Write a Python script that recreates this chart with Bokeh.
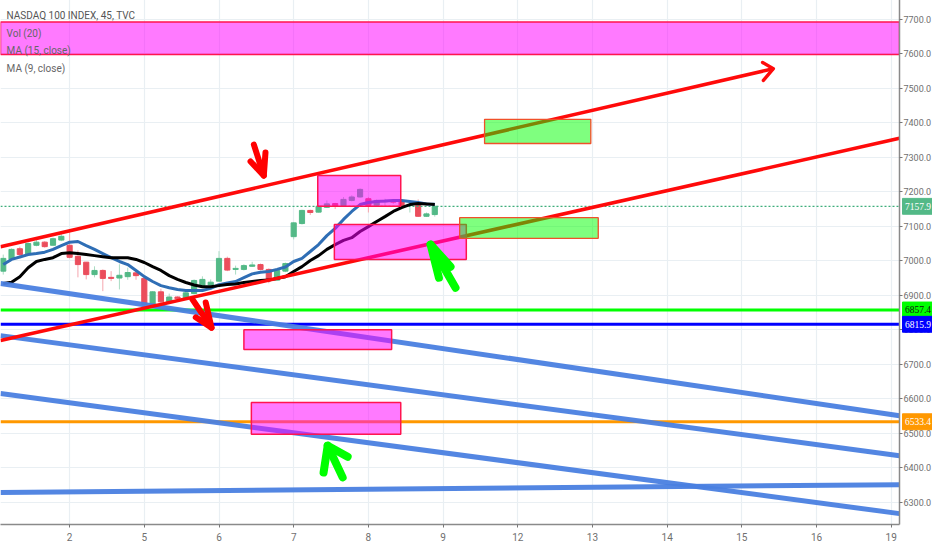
from bokeh.plotting import figure
from bokeh.layouts import row
from bokeh.models import FixedTicker, NumeralTickFormatter, Label, ColumnDataSource, Range1d
from bokeh.embed import file_html
from bokeh.resources import INLINE

# ---- data ----
tick_bars = [8, 17, 26, 35, 44, 53, 62, 71, 80, 89, 98, 107]
tick_labels = ["2", "5", "6", "7", "8", "9", "12", "13", "14", "15", "16", "19"]
price_ticks = [6300, 6400, 6500, 6600, 6700, 6800, 6900, 7000, 7100, 7200, 7300, 7400, 7500, 7600, 7700]

opens = [6970, 7004, 7035, 7018, 7045, 7054, 7045, 7060, 7045, 7013, 6996, 6960, 6972, 6952, 6950, 6954, 6965,
         6949, 6873, 6910, 6881, 6895, 6893, 6905, 6928, 6930, 6941, 7007, 6975, 6975, 6984, 6989, 6975, 6944,
         6970, 7070, 7108, 7146, 7141, 7155, 7166, 7160, 7175, 7185, 7180, 7161, 7171, 7173, 7173, 7160, 7160,
         7129, 7134]
closes = [7007, 7033, 7018, 7050, 7054, 7041, 7064, 7071, 7010, 6989, 6960, 6972, 6949, 6949, 6958, 6966, 6957,
          6873, 6910, 6881, 6895, 6890, 6907, 6943, 6946, 6938, 7007, 6973, 6978, 6986, 6988, 6975, 6944, 6972,
          6992, 7110, 7146, 7140, 7158, 7165, 7160, 7178, 7185, 7207, 7160, 7175, 7175, 7170, 7160, 7163, 7129,
          7136, 7157.9]
highs = [7018, 7036, 7041, 7053, 7062, 7057, 7067, 7078, 7088, 7030, 6996, 6984, 6975, 6970, 6990, 6980, 6975,
         6952, 6912, 6919, 6905, 6897, 6912, 6946, 6955, 6946, 7028, 7012, 6986, 6990, 6997, 6992, 6978, 6975,
         6995, 7112, 7148, 7148, 7160, 7175, 7168, 7185, 7190, 7210, 7185, 7178, 7180, 7175, 7176, 7168, 7178,
         7140, 7160]
lows = [6960, 7001, 7009, 7015, 7042, 7038, 7044, 7057, 7007, 6952, 6946, 6952, 6912, 6941, 6917, 6945, 6945,
        6870, 6870, 6878, 6878, 6885, 6890, 6902, 6925, 6925, 6941, 6970, 6960, 6972, 6982, 6972, 6935, 6942,
        6967, 7062, 7105, 7133, 7140, 7153, 7150, 7158, 7172, 7183, 7140, 7158, 7160, 7165, 7158, 7140, 7127,
        7127, 7128]
ma_blue = [6989, 7004, 7011, 7018, 7021, 7025, 7033, 7044, 7054, 7056, 7044, 7033, 7021, 7009, 6998, 6989, 6972,
           6954, 6940, 6928, 6922, 6917, 6914, 6914, 6914, 6920, 6931, 6936, 6940, 6951, 6962, 6967, 6969, 6975,
           6982, 6998, 7007, 7027, 7047, 7073, 7094, 7120, 7143, 7163, 7169, 7172, 7173, 7175, 7175, 7172, 7169,
           7165, 7164]
ma_black = [6934, 6938, 6954, 6980, 6998, 7004, 7009, 7021, 7023, 7021, 7018, 7015, 7012, 7009, 7009, 7009, 7004,
            6995, 6983, 6972, 6957, 6946, 6937, 6930, 6925, 6925, 6928, 6931, 6933, 6937, 6940, 6943, 6944, 6949,
            6954, 6969, 6983, 7001, 7015, 7033, 7047, 7059, 7067, 7085, 7099, 7114, 7128, 7143, 7154, 7163, 7166,
            7165, 7163]

# trend lines: bar and price at each end
red_x = [[-0.33, 92.8], [-0.33, 108]]
red_y = [[7041, 7557], [6769, 7355]]
blue_x = [[-0.33, 108], [-0.33, 108], [-0.33, 108], [-0.33, 108]]
blue_y = [[6934, 6551], [6783, 6435], [6615, 6267], [6328, 6351]]

# horizontal levels
level_prices = [6857.4, 6815.9, 6533.4]
level_colors = ["#00ff00", "#0000ff", "#ff9800"]
last_price = 7157.9

# price flags
flag_texts = ["7157.9", "6857.4", "6815.9", "6533.4"]
flag_prices = [7157.9, 6857.4, 6815.9, 6533.4]
flag_fill = ["#53b987", "#00ff00", "#0000ff", "#ff9800"]
flag_ink = ["#ffffff", "#111111", "#ffffff", "#ffffff"]

# magenta and green zones: left bar, right bar, top price, bottom price
pink_left = [-0.33, 37.9, 39.9, 29.0, 29.9]
pink_right = [108, 47.9, 55.8, 46.8, 47.9]
pink_top = [7692, 7247, 7105, 6800, 6589]
pink_bottom = [7598, 7158, 7004, 6743, 6497]
green_left = [58.0, 55.0]
green_right = [70.8, 71.7]
green_top = [7410, 7125]
green_bottom = [7340, 7065]

# hand-drawn arrows: wing, tip, wing + shaft
red_arrow_x = [[30.2, 31.4], [29.8, 31.4, 31.6], [22.8, 25.1], [23.2, 25.1, 24.4], [91.5, 92.8, 91.6]]
red_arrow_y = [[7337, 7247], [7288, 7247, 7314], [6888, 6806], [6836, 6806, 6879], [7575, 7557, 7523]]
green_arrow_x = [[51.5, 54.5], [52.5, 51.5, 53.9], [39.1, 40.9], [38.6, 39.1, 41.5]]
green_arrow_y = [[7047, 6922], [6951, 7047, 6983], [6464, 6372], [6386, 6464, 6432]]

# ---- figure ----
FONT = "Roboto"
y_range = Range1d(6235.5, 7757.5)
p = figure(frame_width=899, frame_height=525, output_backend="svg", toolbar_location=None,
           x_range=Range1d(-0.33, 108), y_range=y_range,
           y_axis_location="right", min_border_left=0, min_border_top=0,
           min_border_right=0, min_border_bottom=0, background_fill_color="white",
           outline_line_color=None)
p.margin = (-1, 0, 0, 0)

p.xaxis.ticker = FixedTicker(ticks=tick_bars)
p.xaxis.major_label_overrides = dict(zip(tick_bars, tick_labels))
p.yaxis.ticker = FixedTicker(ticks=price_ticks)
p.yaxis.formatter = NumeralTickFormatter(format="0.0")
for ax in (p.xaxis[0], p.yaxis[0]):
    ax.axis_line_color = "#8a8a8a"
    ax.axis_line_width = 1.5
    ax.major_tick_line_color = "#777777"
    ax.major_tick_out = 3
    ax.major_tick_in = 0
    ax.minor_tick_line_color = None
    ax.major_label_text_color = "#6f6f6f"
    ax.major_label_text_font = FONT
    ax.major_label_text_font_size = "9px"
    ax.major_label_standoff = 1
p.xaxis.major_label_text_font_size = "10px"
p.xaxis.major_label_standoff = 5
p.grid.grid_line_color = "#e9eff3"
p.grid.grid_line_width = 1.2

# candles
n = len(opens)
bars = list(range(n))
colors = ["#53b987" if c >= o else "#eb4d5c" for o, c in zip(opens, closes)]
wick_colors = ["#a9dcc3" if c >= o else "#f5a6ae" for o, c in zip(opens, closes)]
src = ColumnDataSource(dict(x=bars, o=opens, c=closes, h=highs, l=lows, col=colors, wick=wick_colors))
p.segment("x", "h", "x", "l", source=src, color="wick", line_width=1)
p.vbar("x", 0.62, "o", "c", source=src, fill_color="col", line_color="col", line_width=1)

# last price dotted line
p.line([-0.33, 108], [last_price, last_price], line_color="#3fae7c", line_dash=[2, 2], line_width=1.2)

# moving averages
p.line(bars, ma_blue, line_color="#2f6eb5", line_width=3)
p.line(bars, ma_black, line_color="#000000", line_width=3)

# levels
for price, col in zip(level_prices, level_colors):
    p.line([-0.33, 108], [price, price], line_color=col, line_width=3)

# trend lines
p.multi_line(blue_x, blue_y, line_color="#4a80e0", line_width=5, line_alpha=0.95)
p.multi_line(red_x, red_y, line_color="#ff0a0a", line_width=3.6)

# zones
p.quad(left=pink_left, right=pink_right, top=pink_top, bottom=pink_bottom,
       fill_color="#ff00ff", fill_alpha=0.52, line_color="#ff1450", line_width=1.5)
p.quad(left=green_left, right=green_right, top=green_top, bottom=green_bottom,
       fill_color="#00ff00", fill_alpha=0.5, line_color="#f0502a", line_width=1.3)

# arrows
p.multi_line(red_arrow_x[:4], red_arrow_y[:4], line_color="#ff0000", line_width=6,
             line_cap="round", line_join="round")
p.multi_line(red_arrow_x[4:], red_arrow_y[4:], line_color="#ff0a0a", line_width=3.4,
             line_cap="round", line_join="round")
p.multi_line(green_arrow_x, green_arrow_y, line_color="#00ff00", line_width=8,
             line_cap="round", line_join="round")

# legend texts
for text, y, col in [("NASDAQ 100 INDEX, 45, TVC", 7711, "#555555"), ("Vol (20)", 7659, "#666666"),
                     ("MA (15, close)", 7610, "#666666"), ("MA (9, close)", 7558, "#666666")]:
    p.add_layout(Label(x=0.4, y=y, text=text, text_color=col, text_font=FONT, text_font_size="10px",
                       text_baseline="middle"))

# price flags live in a transparent strip laid over the axis, sharing its price range
side = figure(frame_width=33, frame_height=525, output_backend="svg", toolbar_location=None,
              x_range=Range1d(0, 1), y_range=y_range, x_axis_location=None, y_axis_location=None,
              min_border_left=0, min_border_top=0, min_border_right=0, min_border_bottom=0,
              outline_line_color=None, background_fill_alpha=0, border_fill_alpha=0)
side.xgrid.visible = False
side.ygrid.visible = False
side.margin = (-1, 0, 0, -33)
half_height = 23
flag_src = ColumnDataSource(dict(t=flag_texts, y=flag_prices, fill=flag_fill, ink=flag_ink,
                                 top=[v + half_height for v in flag_prices],
                                 bottom=[v - half_height for v in flag_prices],
                                 left=[0.03] * 4, right=[1.0] * 4, tx=[0.5] * 4))
side.quad(left="left", right="right", top="top", bottom="bottom", fill_color="fill", line_color="fill", source=flag_src)
side.text(x="tx", y="y", text="t", text_color="ink", text_font=FONT, text_font_size="9.5px",
          text_align="center", text_baseline="middle", source=flag_src)

layout = row(p, side)
open("out.html", "w").write(file_html(layout, INLINE))
